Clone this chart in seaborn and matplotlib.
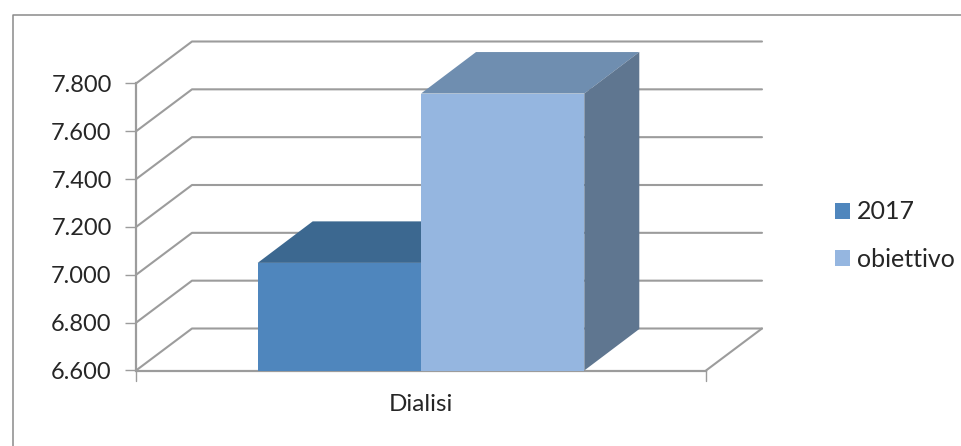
import matplotlib
matplotlib.use("Agg")
import matplotlib.pyplot as plt
from matplotlib.lines import Line2D
from matplotlib.patches import Polygon
from matplotlib.ticker import FuncFormatter
from pandas import DataFrame
import seaborn as sns

category = ["Dialisi", "Dialisi"]
series = ["2017", "obiettivo"]
values = [7050, 7758]
yTicks = [6600, 6800, 7000, 7200, 7400, 7600, 7800]

front = ["#4F86BD", "#95B6E0"]
top = ["#3C6890", "#6F8EB0"]
side = ["#37597C", "#5F7690"]
lineColor = "#9C9C9C"

W, H = 962, 446
# depth of the fake 3d box, in pixels
DX, DY = 56, 42
BAR_DX, BAR_DY = 55, 41.5

sns.set_theme(style="white")
plt.rcParams["font.family"] = ["Lato", "DejaVu Sans"]

fig = plt.figure(figsize=(W / 100, H / 100), dpi=100)
ax = fig.add_axes([136 / W, 1 - 370.5 / H, 570 / W, 287 / H])

dfs = DataFrame({"cat": category, "serie": series, "value": values})
sns.barplot(data=dfs, x="cat", y="value", hue="serie", palette=front, width=0.573,
            saturation=1, linewidth=0, ax=ax, zorder=5)

ax.set_xlim(-0.5, 0.5)
ax.set_ylim(yTicks[0], yTicks[-1])
ax.set_yticks(yTicks)
ax.yaxis.set_major_formatter(FuncFormatter(lambda v, p: f"{v:,.0f}".replace(",", ".")))
ax.set_xlabel("")
ax.set_ylabel("")
ax.set_xticks([0])
ax.set_xticklabels(["Dialisi"])
ax.tick_params(axis="x", length=0, labelsize=17.5, labelcolor="#262626", pad=17)
ax.tick_params(axis="y", length=8, width=1, color=lineColor, labelsize=17, labelcolor="#262626", pad=9.5, left=True)
sns.despine(ax=ax, right=True, top=True)
for name in ["left", "bottom"]:
    ax.spines[name].set_color(lineColor)
    ax.spines[name].set_linewidth(1.6)

# pixel -> data sizes
xPx = (ax.get_xlim()[1] - ax.get_xlim()[0]) / 570
yPx = (ax.get_ylim()[1] - ax.get_ylim()[0]) / 287
dx, dy = DX * xPx, DY * yPx
bdx, bdy = BAR_DX * xPx, BAR_DY * yPx
x0, x1 = ax.get_xlim()

# back wall and floor
for v in yTicks:
    ax.add_line(Line2D([x0, x0 + dx, x1 + dx], [v, v + dy, v + dy], color=lineColor, lw=1.5,
                       clip_on=False, zorder=1))
ax.add_line(Line2D([x1, x1 + dx], [yTicks[0], yTicks[0] + dy], color=lineColor, lw=1.5, clip_on=False, zorder=1))
# bottom ticks at both ends of the category axis
for xt in [x0, x1]:
    ax.add_line(Line2D([xt, xt], [yTicks[0], yTicks[0] - 10 * yPx], color=lineColor, lw=1, clip_on=False, zorder=1))

# top and side faces built from the bars seaborn drew
for i, cont in enumerate(ax.containers):
    bar = cont[0]
    left = bar.get_x()
    right = left + bar.get_width()
    h = bar.get_y() + bar.get_height()
    bar.set_zorder(3 + i * 2)
    ax.add_patch(Polygon([(left, h), (left + bdx, h + bdy), (right + bdx, h + bdy), (right, h)],
                         closed=True, color=top[i], lw=0, clip_on=False, zorder=3 + i * 2))
    ax.add_patch(Polygon([(right, h), (right + bdx, h + bdy), (right + bdx, yTicks[0] + bdy), (right, yTicks[0])],
                         closed=True, color=side[i], lw=0, clip_on=False, zorder=3 + i * 2))

handles, labels = ax.get_legend_handles_labels()
ax.legend(handles, labels, loc="center left", bbox_to_anchor=(812.5 / W, 1 - 235.5 / H),
          bbox_transform=fig.transFigure, frameon=False, fontsize=18,
          handlelength=0.6, handleheight=0.6, handletextpad=0.28, labelspacing=0.97,
          labelcolor="#262626")

# outer frame, only top and left are visible in the picture
fig.add_artist(Line2D([13 / W, 13 / W, 1], [0, 1 - 14.5 / H, 1 - 14.5 / H], color="#8A8A8A", lw=1.1))

fig.savefig("out.png", dpi=100)
